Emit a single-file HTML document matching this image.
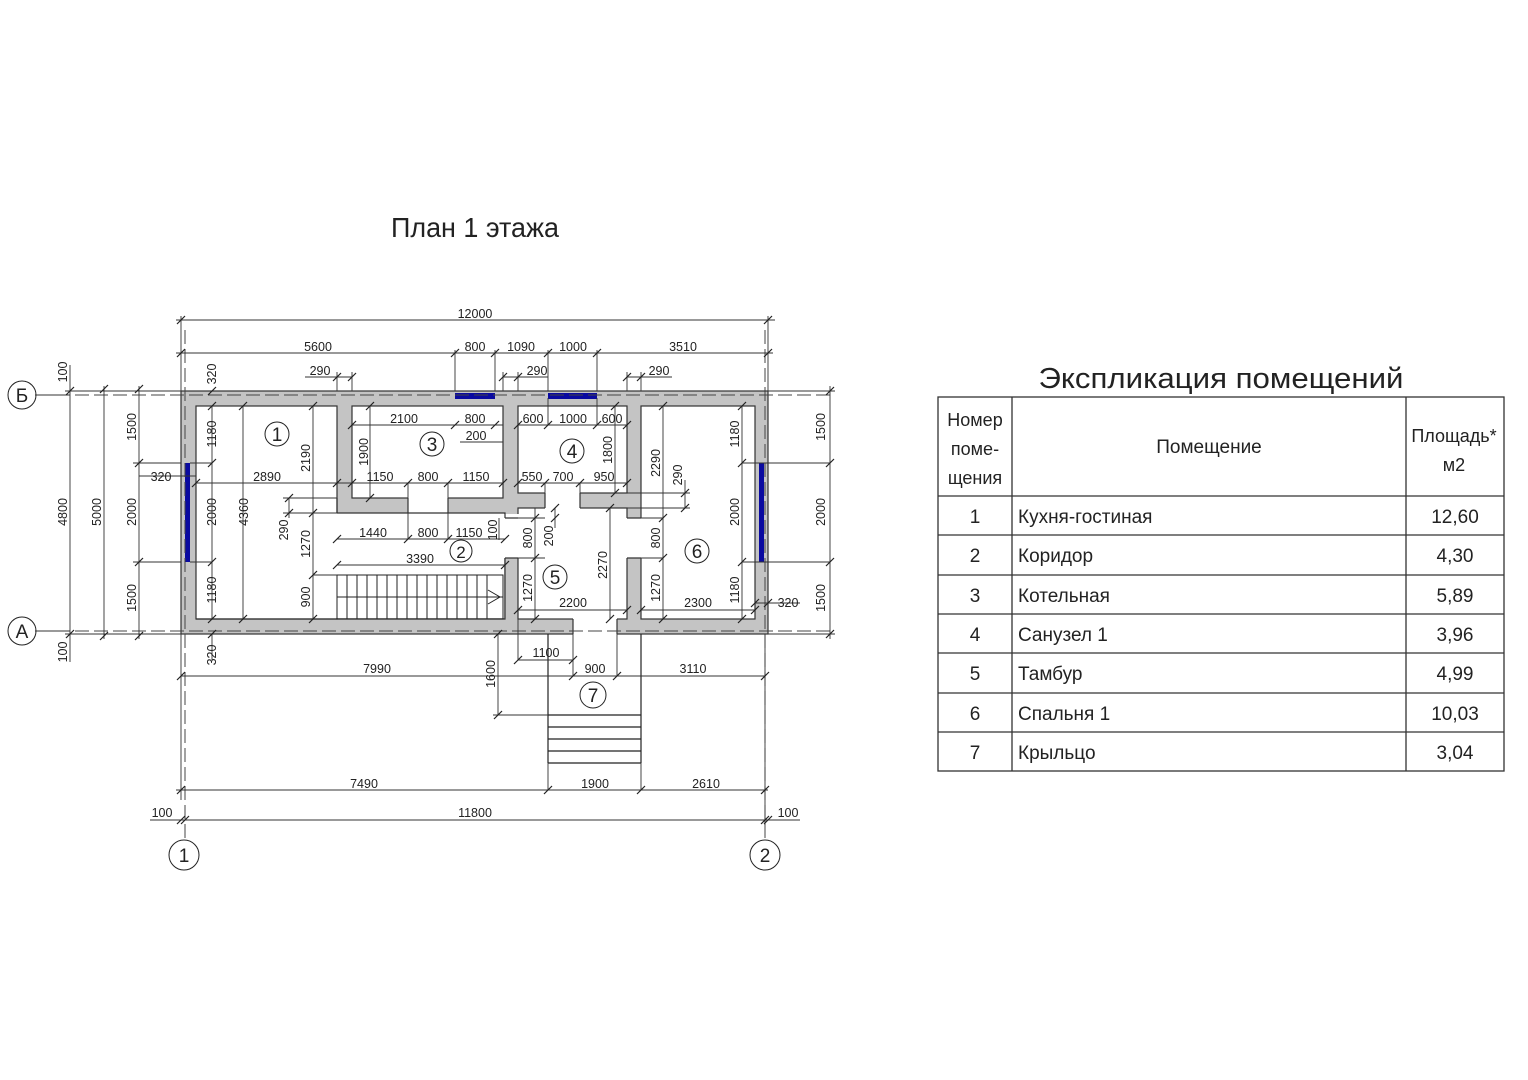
<!DOCTYPE html>
<html><head><meta charset="utf-8"><style>
html,body{margin:0;padding:0;background:#fff}
svg{display:block}
text{font-family:"Liberation Sans","DejaVu Sans",sans-serif;fill:#222}
.d{font-size:12.5px}
.t{stroke:#333;stroke-width:1.2}
</style></head><body>
<svg width="1528" height="1080" viewBox="0 0 1528 1080" xmlns="http://www.w3.org/2000/svg">
<defs><path id="k" d="M-4 4L4 -4" stroke="#222" stroke-width="1.2"/></defs>
<text x="475" y="237" font-size="28" text-anchor="middle" textLength="168" lengthAdjust="spacingAndGlyphs">План 1 этажа</text>

<!-- walls -->
<rect x="181" y="391" width="587" height="243" fill="#c4c4c4" stroke="#333" stroke-width="1.2"/>
<g fill="#fff" stroke="#333" stroke-width="1.2">
<rect x="196" y="406" width="141" height="213"/>
<rect x="352" y="406" width="151" height="92"/>
<rect x="518" y="406" width="109" height="87"/>
<rect x="518" y="508" width="109" height="111"/>
<rect x="641" y="406" width="114" height="213"/>
</g>
<g fill="#fff">
<rect x="197" y="513" width="307" height="105"/>
<rect x="197" y="500" width="139" height="20"/>
<rect x="408" y="497" width="40" height="17"/>
<rect x="545" y="492" width="35" height="17"/>
<rect x="626" y="518" width="16" height="40"/>
<rect x="503" y="514" width="16" height="44"/>
<rect x="573" y="618" width="44" height="17"/>
</g>
<g stroke="#333" stroke-width="1.2" fill="none">
<path d="M337 513H505V518M505 558V619H196M337 498V513"/>
<path d="M408 498V513M448 498V513M545 493V508M580 493V508M627 518H641M627 558H641M505 558H518M505 518H518M573 619V634M617 619V634"/>
</g>
<!-- windows -->
<g fill="#0a0aa0">
<rect x="185" y="463" width="5" height="99"/><rect x="759" y="463" width="5" height="99"/>
<rect x="455" y="393" width="40" height="6"/><rect x="548" y="393" width="49" height="6"/>
</g>
<!-- stair -->
<g stroke="#222" stroke-width="1" fill="none">
<rect x="337" y="575" width="166" height="44"/>
<path d="M337 597H503M347 575V619M357 575V619M367 575V619M377 575V619M387 575V619M397 575V619M407 575V619M417 575V619M427 575V619M437 575V619M447 575V619M457 575V619M467 575V619M477 575V619M487 575V619"/>
<path d="M488 590L500 597L488 604"/>
</g>
<!-- porch -->
<g stroke="#222" stroke-width="1.2" fill="none">
<path d="M548 634V763M641 634V763M548 715H641M548 727H641M548 739H641M548 751H641M548 763H641"/>
</g>
<!-- axes -->
<g stroke="#444" stroke-width="1" stroke-dasharray="14 5" fill="none">
<path d="M37 395H830M37 631H830M185 330V840M765 330V840"/>
</g>
<g stroke="#222" stroke-width="1" fill="#fff">
<circle cx="22" cy="395" r="14"/><circle cx="22" cy="631" r="14"/>
<circle cx="184" cy="855" r="15"/><circle cx="765" cy="855" r="15"/>
<circle cx="277" cy="434" r="12"/><circle cx="432" cy="444" r="12"/><circle cx="572" cy="451" r="12"/>
<circle cx="461" cy="551" r="11"/><circle cx="555" cy="577" r="12"/><circle cx="697" cy="551" r="12"/><circle cx="593" cy="695" r="13"/>
</g>
<g font-size="19" text-anchor="middle">
<text x="22" y="402">Б</text><text x="22" y="638">А</text><text x="184" y="862">1</text><text x="765" y="862">2</text>
<text x="277" y="441">1</text><text x="432" y="451">3</text><text x="572" y="458">4</text><text x="461" y="558" font-size="17">2</text>
<text x="555" y="584">5</text><text x="697" y="558">6</text><text x="593" y="702">7</text>
</g>

<!-- dimension lines -->
<g stroke="#333" stroke-width="0.9" fill="none">
<path d="M176 320H775M176 353H773M181 316V391M768 316V391M455 350V391M495 350V391M548 350V391M597 350V391"/>
<path d="M305 377H352M337 372V391M352 372V391M503 377H548M503 372V391M518 372V391M627 377H672M627 372V391M641 372V391"/>
<path d="M35 395H70M35 631H70M65 391H181M65 634H181M70 365V662M104 386V639M139 386V639M133 463H181M133 562H181"/>
<path d="M139 476H196M212 406V619M190 463H212M190 562H212M243 406V619M313 406V619M289 498V518M283 498H337M283 513H337"/>
<path d="M196 483H503M352 425H503M460 442H503M370 406V498M408 483V513M448 483V513"/>
<path d="M337 539H505M337 565H505M313 575H337M408 513V539M448 513V539M499 518V540"/>
<path d="M518 425H627M518 483H627M545 483V508M580 483V508M615 406V493M548 398V425M597 398V425"/>
<path d="M535 508V619M518 518H545M518 558H545M555 508V528M610 508V619M518 610H627"/>
<path d="M663 406V619M685 480V508M615 493H690M615 508H690M641 518H663M641 558H663M742 406V619M641 610H755M742 463H830M742 562H830M755 391H835M755 634H835M830 386V639M755 603H800"/>
<path d="M181 634V800M765 634V825M212 634V660M181 676H765M518 660H573M518 619V660M573 634V676M617 634V676M498 634V715M493 715H548"/>
<path d="M176 790H768M548 763V790M641 763V790M176 820H800M150 820H181M768 820H800"/>
</g>
<g>
<use href="#k" x="181" y="320"/><use href="#k" x="768" y="320"/>
<use href="#k" x="181" y="353"/><use href="#k" x="455" y="353"/><use href="#k" x="495" y="353"/><use href="#k" x="548" y="353"/><use href="#k" x="597" y="353"/><use href="#k" x="768" y="353"/>
<use href="#k" x="337" y="377"/><use href="#k" x="352" y="377"/><use href="#k" x="503" y="377"/><use href="#k" x="518" y="377"/><use href="#k" x="627" y="377"/><use href="#k" x="641" y="377"/>
<use href="#k" x="70" y="391"/><use href="#k" x="70" y="634"/><use href="#k" x="104" y="389"/><use href="#k" x="104" y="636"/>
<use href="#k" x="139" y="389"/><use href="#k" x="139" y="463"/><use href="#k" x="139" y="562"/><use href="#k" x="139" y="636"/>
<use href="#k" x="212" y="406"/><use href="#k" x="212" y="463"/><use href="#k" x="212" y="562"/><use href="#k" x="212" y="619"/><use href="#k" x="212" y="391"/><use href="#k" x="212" y="634"/>
<use href="#k" x="243" y="406"/><use href="#k" x="243" y="619"/>
<use href="#k" x="313" y="406"/><use href="#k" x="313" y="513"/><use href="#k" x="313" y="575"/><use href="#k" x="313" y="619"/>
<use href="#k" x="289" y="498"/><use href="#k" x="289" y="513"/>
<use href="#k" x="196" y="483"/><use href="#k" x="337" y="483"/><use href="#k" x="352" y="483"/><use href="#k" x="408" y="483"/><use href="#k" x="448" y="483"/><use href="#k" x="503" y="483"/>
<use href="#k" x="352" y="425"/><use href="#k" x="455" y="425"/><use href="#k" x="495" y="425"/><use href="#k" x="370" y="406"/><use href="#k" x="370" y="498"/>
<use href="#k" x="337" y="539"/><use href="#k" x="408" y="539"/><use href="#k" x="448" y="539"/><use href="#k" x="505" y="539"/><use href="#k" x="337" y="565"/><use href="#k" x="505" y="565"/>
<use href="#k" x="518" y="425"/><use href="#k" x="548" y="425"/><use href="#k" x="597" y="425"/><use href="#k" x="627" y="425"/>
<use href="#k" x="518" y="483"/><use href="#k" x="545" y="483"/><use href="#k" x="580" y="483"/><use href="#k" x="627" y="483"/>
<use href="#k" x="615" y="406"/><use href="#k" x="615" y="493"/>
<use href="#k" x="535" y="518"/><use href="#k" x="535" y="558"/><use href="#k" x="535" y="619"/><use href="#k" x="555" y="508"/><use href="#k" x="555" y="518"/>
<use href="#k" x="610" y="508"/><use href="#k" x="610" y="619"/><use href="#k" x="518" y="610"/><use href="#k" x="627" y="610"/>
<use href="#k" x="663" y="406"/><use href="#k" x="663" y="518"/><use href="#k" x="663" y="558"/><use href="#k" x="663" y="619"/>
<use href="#k" x="685" y="493"/><use href="#k" x="685" y="508"/>
<use href="#k" x="742" y="406"/><use href="#k" x="742" y="463"/><use href="#k" x="742" y="562"/><use href="#k" x="742" y="619"/>
<use href="#k" x="641" y="610"/><use href="#k" x="755" y="610"/><use href="#k" x="755" y="603"/><use href="#k" x="768" y="603"/>
<use href="#k" x="830" y="391"/><use href="#k" x="830" y="463"/><use href="#k" x="830" y="562"/><use href="#k" x="830" y="634"/>
<use href="#k" x="181" y="676"/><use href="#k" x="573" y="676"/><use href="#k" x="617" y="676"/><use href="#k" x="765" y="676"/>
<use href="#k" x="518" y="660"/><use href="#k" x="573" y="660"/><use href="#k" x="498" y="634"/><use href="#k" x="498" y="715"/>
<use href="#k" x="181" y="790"/><use href="#k" x="548" y="790"/><use href="#k" x="641" y="790"/><use href="#k" x="765" y="790"/>
<use href="#k" x="181" y="820"/><use href="#k" x="185" y="820"/><use href="#k" x="765" y="820"/><use href="#k" x="768" y="820"/>
</g>
<g class="d" text-anchor="middle">
<text x="475" y="318">12000</text>
<text x="318" y="351">5600</text><text x="475" y="351">800</text><text x="521" y="351">1090</text><text x="573" y="351">1000</text><text x="683" y="351">3510</text>
<text x="320" y="375">290</text><text x="537" y="375">290</text><text x="659" y="375">290</text>
<text x="161" y="481">320</text><text x="267" y="481">2890</text><text x="380" y="481">1150</text><text x="428" y="481">800</text><text x="476" y="481">1150</text>
<text x="404" y="423">2100</text><text x="475" y="423">800</text><text x="476" y="440">200</text>
<text x="373" y="537">1440</text><text x="428" y="537">800</text><text x="469" y="537">1150</text><text x="420" y="563">3390</text>
<text x="533" y="423">600</text><text x="573" y="423">1000</text><text x="612" y="423">600</text>
<text x="532" y="481">550</text><text x="563" y="481">700</text><text x="604" y="481">950</text>
<text x="573" y="607">2200</text><text x="698" y="607">2300</text><text x="788" y="607">320</text>
<text x="377" y="673">7990</text><text x="595" y="673">900</text><text x="693" y="673">3110</text><text x="546" y="657">1100</text>
<text x="364" y="788">7490</text><text x="595" y="788">1900</text><text x="706" y="788">2610</text>
<text x="475" y="817">11800</text><text x="162" y="817">100</text><text x="788" y="817">100</text>
</g>
<g class="d" text-anchor="middle">
<text transform="translate(67,512) rotate(-90)">4800</text>
<text transform="translate(101,512) rotate(-90)">5000</text>
<text transform="translate(67,372) rotate(-90)">100</text>
<text transform="translate(67,652) rotate(-90)">100</text>
<text transform="translate(136,427) rotate(-90)">1500</text>
<text transform="translate(136,512) rotate(-90)">2000</text>
<text transform="translate(136,598) rotate(-90)">1500</text>
<text transform="translate(216,374) rotate(-90)">320</text>
<text transform="translate(216,655) rotate(-90)">320</text>
<text transform="translate(216,434) rotate(-90)" >1180</text>
<text transform="translate(216,512) rotate(-90)">2000</text>
<text transform="translate(216,590) rotate(-90)">1180</text>
<text transform="translate(248,512) rotate(-90)">4360</text>
<text transform="translate(310,458) rotate(-90)">2190</text>
<text transform="translate(310,544) rotate(-90)">1270</text>
<text transform="translate(310,597) rotate(-90)">900</text>
<text transform="translate(288,530) rotate(-90)">290</text>
<text transform="translate(368,452) rotate(-90)">1900</text>
<text transform="translate(497,530) rotate(-90)">100</text>
<text transform="translate(612,450) rotate(-90)">1800</text>
<text transform="translate(532,538) rotate(-90)">800</text>
<text transform="translate(532,588) rotate(-90)">1270</text>
<text transform="translate(553,536) rotate(-90)">200</text>
<text transform="translate(607,565) rotate(-90)">2270</text>
<text transform="translate(660,463) rotate(-90)">2290</text>
<text transform="translate(682,475) rotate(-90)">290</text>
<text transform="translate(660,538) rotate(-90)">800</text>
<text transform="translate(660,588) rotate(-90)">1270</text>
<text transform="translate(739,434) rotate(-90)">1180</text>
<text transform="translate(739,512) rotate(-90)">2000</text>
<text transform="translate(739,590) rotate(-90)">1180</text>
<text transform="translate(825,427) rotate(-90)">1500</text>
<text transform="translate(825,512) rotate(-90)">2000</text>
<text transform="translate(825,598) rotate(-90)">1500</text>
<text transform="translate(495,674) rotate(-90)">1600</text>
</g>

<!-- table -->
<text x="1221" y="388" font-size="29" text-anchor="middle" textLength="365" lengthAdjust="spacingAndGlyphs">Экспликация помещений</text>
<g stroke="#333" stroke-width="1.3" fill="none">
<rect x="938" y="397" width="566" height="374"/>
<path d="M1012 397V771M1406 397V771M938 496H1504M938 535H1504M938 575H1504M938 614H1504M938 653H1504M938 693H1504M938 732H1504"/>
</g>
<g font-size="19">
<text x="975" y="426" text-anchor="middle" font-size="18">Номер</text>
<text x="975" y="455" text-anchor="middle" font-size="18">поме-</text>
<text x="975" y="484" text-anchor="middle" font-size="18">щения</text>
<text x="1209" y="453" text-anchor="middle">Помещение</text>
<text x="1454" y="442" text-anchor="middle" font-size="18">Площадь*</text>
<text x="1454" y="471" text-anchor="middle" font-size="18">м2</text>
<g text-anchor="middle">
<text x="975" y="523">1</text><text x="975" y="562">2</text><text x="975" y="602">3</text><text x="975" y="641">4</text><text x="975" y="680">5</text><text x="975" y="720">6</text><text x="975" y="759">7</text>
<text x="1455" y="523">12,60</text><text x="1455" y="562">4,30</text><text x="1455" y="602">5,89</text><text x="1455" y="641">3,96</text><text x="1455" y="680">4,99</text><text x="1455" y="720">10,03</text><text x="1455" y="759">3,04</text>
</g>
<text x="1018" y="523">Кухня-гостиная</text>
<text x="1018" y="562">Коридор</text>
<text x="1018" y="602">Котельная</text>
<text x="1018" y="641">Санузел 1</text>
<text x="1018" y="680">Тамбур</text>
<text x="1018" y="720">Спальня 1</text>
<text x="1018" y="759">Крыльцо</text>
</g>
</svg>
</body></html>
